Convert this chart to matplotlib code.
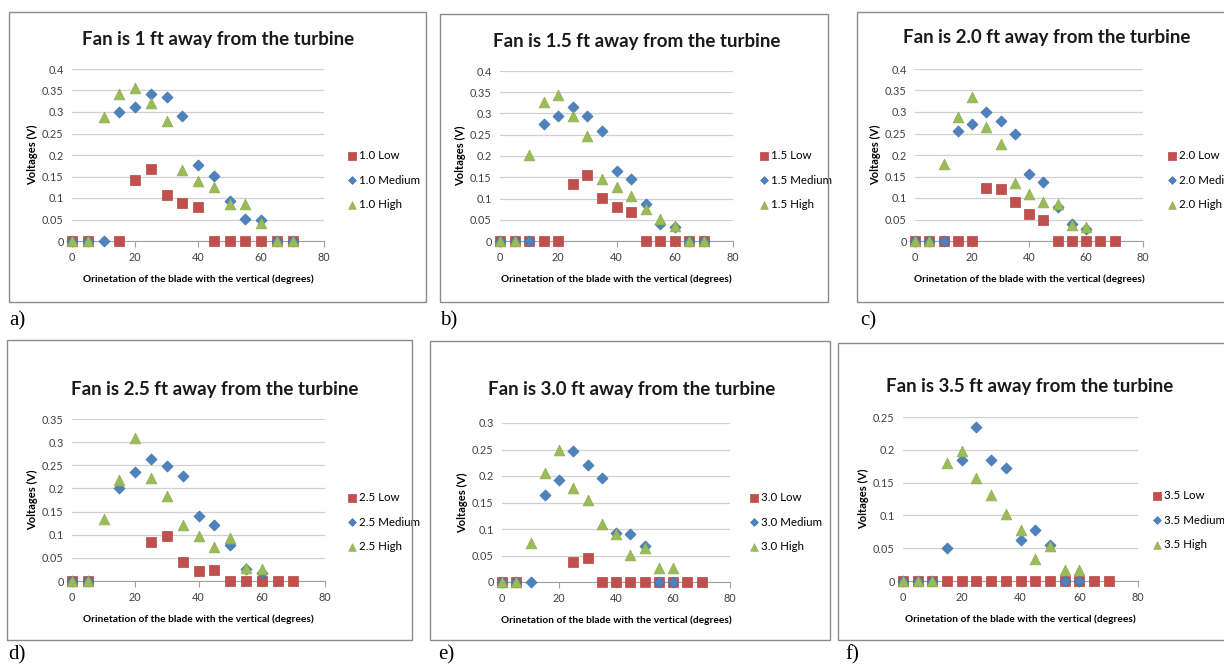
import numpy as np
import matplotlib
matplotlib.use("Agg")
import matplotlib.pyplot as plt
from matplotlib.patches import Rectangle
from matplotlib.ticker import FuncFormatter

plt.rcParams['font.family'] = ['Lato', 'DejaVu Sans']

angles = [0, 5, 10, 15, 20, 25, 30, 35, 40, 45, 50, 55, 60, 65, 70]
nan = np.nan

# a) 1 ft
low_1 = [0, 0, nan, 0, 0.143, 0.168, 0.108, 0.088, 0.078, 0, 0, 0, 0, 0, 0]
med_1 = [0, 0, 0, 0.300, 0.312, 0.342, 0.335, 0.290, 0.177, 0.152, 0.094, 0.052, 0.049, 0, 0]
high_1 = [0, 0, 0.288, 0.342, 0.355, 0.320, 0.279, 0.165, 0.140, 0.125, 0.086, 0.085, 0.041, 0, 0]
# b) 1.5 ft
low_15 = [0, 0, 0, 0, 0, 0.135, 0.155, 0.102, 0.081, 0.068, 0, 0, 0, 0, 0]
med_15 = [0, 0, 0, 0.275, 0.293, 0.315, 0.295, 0.260, 0.165, 0.147, 0.088, 0.040, 0.033, 0, 0]
high_15 = [0, 0, 0.202, 0.327, 0.343, 0.293, 0.248, 0.145, 0.127, 0.105, 0.075, 0.052, 0.036, 0, 0]
# c) 2.0 ft
low_20 = [0, 0, 0, 0, 0, 0.123, 0.122, 0.090, 0.062, 0.049, 0, 0, 0, 0, 0]
med_20 = [0, 0, 0, 0.255, 0.271, 0.301, 0.278, 0.248, 0.155, 0.137, 0.080, 0.040, 0.028, nan, nan]
high_20 = [0, 0, 0.180, 0.288, 0.334, 0.266, 0.225, 0.134, 0.110, 0.090, 0.085, 0.038, 0.033, nan, nan]
# d) 2.5 ft
low_25 = [0, 0, nan, nan, nan, 0.085, 0.098, 0.042, 0.022, 0.023, 0, 0, 0, 0, 0]
med_25 = [0, 0, nan, 0.201, 0.235, 0.264, 0.248, 0.226, 0.140, 0.120, 0.077, 0.027, 0.018, nan, nan]
high_25 = [0, 0, 0.133, 0.219, 0.310, 0.223, 0.183, 0.121, 0.098, 0.074, 0.093, 0.029, 0.027, nan, nan]
# e) 3.0 ft
low_30 = [0, 0, nan, nan, nan, 0.038, 0.045, 0, 0, 0, 0, 0, 0, 0, 0]
med_30 = [0, 0, 0, 0.165, 0.192, 0.248, 0.220, 0.197, 0.093, 0.091, 0.068, 0, 0, nan, nan]
high_30 = [0, 0, 0.073, 0.205, 0.250, 0.178, 0.155, 0.110, 0.090, 0.051, 0.065, 0.027, 0.027, nan, nan]
# f) 3.5 ft
low_35 = [0, 0, 0, 0, 0, 0, 0, 0, 0, 0, 0, 0, 0, 0, 0]
med_35 = [0, 0, 0, 0.050, 0.184, 0.234, 0.185, 0.173, 0.062, 0.077, 0.055, 0, 0, nan, nan]
high_35 = [0, 0, 0, 0.180, 0.198, 0.157, 0.131, 0.102, 0.078, 0.033, 0.054, 0.017, 0.017, nan, nan]

W, H = 1224, 666
fig = plt.figure(figsize=(W / 100, H / 100), dpi=100)

RED, BLUE, GREEN = '#C0504D', '#4F81BD', '#9BBB59'


def fx(px):
    return px / W


def fy(py):
    return 1 - py / H


def panel(box, plot, title, title_xy, dist, ymax, low, med, high, leg_xy, letter, letter_xy):
    bx0, by0, bx1, by1 = box
    fig.patches.append(Rectangle((fx(bx0), fy(by1)), fx(bx1 - bx0), (by1 - by0) / H,
                                 transform=fig.transFigure, fill=False,
                                 edgecolor='#8c8c8c', linewidth=1.0))
    x0, y0, x1, y1 = plot
    ax = fig.add_axes([fx(x0), fy(y1), fx(x1 - x0), (y1 - y0) / H])
    ax.scatter(angles, low, marker='s', s=55, color=RED, edgecolors='#b84643',
               linewidths=0.5, label=f'{dist} Low', zorder=3, clip_on=False)
    ax.scatter(angles, med, marker='D', s=32, color=BLUE, edgecolors='#4275b0',
               linewidths=0.5, label=f'{dist} Medium', zorder=4, clip_on=False)
    ax.scatter(angles, high, marker='^', s=60, color=GREEN, edgecolors='#8fae4e',
               linewidths=0.5, label=f'{dist} High', zorder=5, clip_on=False)
    ax.set_xlim(0, 80)
    ax.set_ylim(0, ymax)
    ax.set_xticks([0, 20, 40, 60, 80])
    ax.set_yticks(np.arange(0, ymax + 1e-9, 0.05))
    ax.yaxis.set_major_formatter(FuncFormatter(lambda v, p: f'{round(v, 2):g}'))
    ax.grid(axis='y', color='#d0d0d0', linewidth=0.9)
    ax.set_axisbelow(True)
    for s in ['top', 'right', 'left']:
        ax.spines[s].set_visible(False)
    ax.spines['bottom'].set_color('#a0a0a0')
    ax.tick_params(axis='y', length=0, labelsize=7.8, labelcolor='#404040', pad=6)
    ax.tick_params(axis='x', direction='out', length=4, color='#a0a0a0',
                   labelsize=7.8, labelcolor='#404040', pad=4)
    ax.set_ylabel('Voltages (V)', fontsize=8, fontweight='bold', labelpad=3)
    ax.set_xlabel('Orinetation of the blade with the vertical (degrees)',
                  fontsize=7.3, fontweight='bold', labelpad=8)
    fig.text(fx(title_xy[0]), fy(title_xy[1]), title, ha='center', va='center',
             fontsize=13.5, fontweight='bold', color='#1a1a1a')
    ax.legend(loc='center left', bbox_to_anchor=(fx(leg_xy[0]), fy(leg_xy[1])),
              bbox_transform=fig.transFigure, frameon=False, fontsize=8.3,
              handlelength=0.6, handletextpad=0.3, labelspacing=1.15,
              borderpad=0, markerscale=0.7)
    fig.text(fx(letter_xy[0]), fy(letter_xy[1]), letter, ha='left', va='center',
             fontsize=15, family=['Liberation Serif', 'DejaVu Serif'])
    return ax


panel((9, 12, 426, 302), (72, 69, 324, 241), 'Fan is 1 ft away from the turbine',
      (218, 40), '1.0', 0.4, low_1, med_1, high_1, (343, 180), 'a)', (9, 321))
panel((440, 14, 828, 302), (500, 71, 733, 241), 'Fan is 1.5 ft away from the turbine',
      (637, 41), '1.5', 0.4, low_15, med_15, high_15, (755, 180), 'b)', (440, 321))
panel((857, 12, 1230, 302), (915, 69, 1143, 241), 'Fan is 2.0 ft away from the turbine',
      (1047, 38), '2.0', 0.4, low_20, med_20, high_20, (1163, 180), 'c)', (860, 321))
panel((7, 340, 412, 640), (72, 419, 325, 581), 'Fan is 2.5 ft away from the turbine',
      (215, 389), '2.5', 0.35, low_25, med_25, high_25, (343, 522), 'd)', (8, 655))
panel((430, 341, 830, 640), (502, 423, 730, 582), 'Fan is 3.0 ft away from the turbine',
      (632, 390), '3.0', 0.3, low_30, med_30, high_30, (745, 522), 'e)', (438, 655))
panel((838, 343, 1230, 640), (903, 417, 1138, 581), 'Fan is 3.5 ft away from the turbine',
      (1030, 387), '3.5', 0.25, low_35, med_35, high_35, (1148, 520), 'f)', (845, 655))

fig.savefig('out.png', dpi=100)
